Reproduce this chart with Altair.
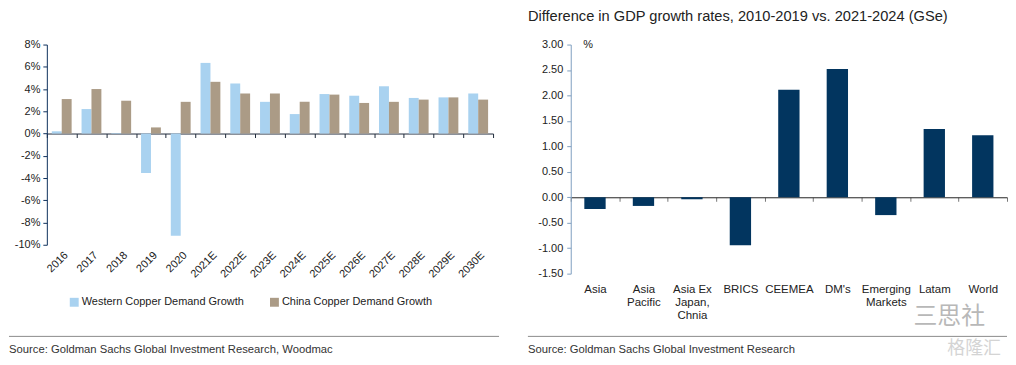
import altair as alt
import pandas as pd

# ---------------- data ----------------
years = ["2016", "2017", "2018", "2019", "2020", "2021E", "2022E", "2023E",
         "2024E", "2025E", "2026E", "2027E", "2028E", "2029E", "2030E"]
western = [0.2, 2.2, 0.05, -3.55, -9.2, 6.35, 4.5, 2.85, 1.75, 3.55, 3.4, 4.25, 3.2, 3.25, 3.6]
china = [3.1, 4.0, 2.95, 0.55, 2.85, 4.65, 3.6, 3.6, 2.85, 3.5, 2.75, 2.85, 3.05, 3.25, 3.05]
series_names = ["Western Copper Demand Growth", "China Copper Demand Growth"]
left_ticks = [8, 6, 4, 2, 0, -2, -4, -6, -8, -10]

regions = ["Asia", "Asia|Pacific", "Asia Ex|Japan,|Chnia", "BRICS", "CEEMEA",
           "DM's", "Emerging|Markets", "Latam", "World"]
gdp_diff = [-0.23, -0.17, -0.04, -0.94, 2.11, 2.52, -0.35, 1.34, 1.22]
right_ticks = [3.0, 2.5, 2.0, 1.5, 1.0, 0.5, 0.0, -0.5, -1.0, -1.5]

right_title = "Difference in GDP growth rates, 2010-2019 vs. 2021-2024 (GSe)"
source_left = "Source: Goldman Sachs Global Investment Research, Woodmac"
source_right = "Source: Goldman Sachs Global Investment Research"

# ---------------- style ----------------
BLUE = "#A9D2F0"
BROWN = "#AB9B86"
NAVY = "#02355F"
FONT = "Liberation Sans"

W1, H1 = 448, 201
W2, H2 = 438, 230

df1 = pd.DataFrame({
    "year": years * 2,
    "series": [series_names[0]] * len(years) + [series_names[1]] * len(years),
    "value": western + china,
})

bars1 = alt.Chart(df1).mark_bar().encode(
    x=alt.X("year:N", sort=years, title=None,
            scale=alt.Scale(paddingInner=0, paddingOuter=0),
            axis=alt.Axis(offset=-H1 * 10 / 18, labelAngle=-45, labelAlign="right",
                          labelBaseline="top", labelPadding=112, tickBand="extent",
                          tickSize=4, domainColor="#1f2a3a", tickColor="#1f2a3a",
                          labelFontSize=11, labelColor="#222")),
    xOffset=alt.XOffset("series:N", sort=series_names,
                        scale=alt.Scale(paddingInner=0, paddingOuter=0.5)),
    y=alt.Y("value:Q", title=None,
            scale=alt.Scale(domain=[-10, 8], nice=False),
            axis=alt.Axis(values=left_ticks, labelExpr="datum.value + '%'",
                          domainColor="#0d2f5c", tickColor="#0d2f5c", tickSize=4,
                          labelFontSize=11, labelColor="#222", labelPadding=3)),
    color=alt.Color("series:N", sort=series_names,
                    scale=alt.Scale(domain=series_names, range=[BLUE, BROWN]),
                    legend=alt.Legend(title=None, orient="none", direction="horizontal",
                                      legendX=22, legendY=253, symbolType="square",
                                      symbolSize=80, symbolStrokeWidth=0,
                                      labelFontSize=11, labelColor="#222",
                                      labelLimit=400, columnPadding=24, labelOffset=2)),
)

rule1 = alt.Chart(pd.DataFrame({"k": [0]})).mark_rule(color="#8a8a8a", strokeWidth=1).encode(
    x=alt.value(-38), x2=alt.value(454), y=alt.value(293))
text1 = alt.Chart(pd.DataFrame({"t": [source_left]})).mark_text(
    align="left", baseline="middle", font=FONT, fontSize=11.3, color="#333").encode(
    x=alt.value(-38), y=alt.value(307), text="t:N")

left = alt.layer(bars1, rule1, text1).properties(width=W1, height=H1)

df2 = pd.DataFrame({"region": regions, "diff": gdp_diff})

bars2 = alt.Chart(df2).mark_bar(width=alt.RelativeBandSize(0.44), color=NAVY).encode(
    x=alt.X("region:N", sort=regions, title=None,
            scale=alt.Scale(paddingInner=0, paddingOuter=0),
            axis=alt.Axis(offset=-H2 * 1.5 / 4.5, labelAngle=0, labelAlign="center",
                          labelBaseline="top", labelPadding=83,
                          labelExpr="split(datum.label, '|')", labelLineHeight=12.7,
                          tickBand="extent", tickSize=4, domainColor="#222",
                          tickColor="#777", labelFontSize=11.5, labelColor="#222")),
    y=alt.Y("diff:Q", scale=alt.Scale(domain=[-1.5, 3], nice=False),
            axis=alt.Axis(values=right_ticks,
                          labelExpr="replace(format(datum.value, '.2f'), '\u2212', '-')",
                          domainColor="#7f9fbf", tickColor="#7f9fbf", tickSize=4,
                          labelFontSize=11, labelColor="#222", labelPadding=4,
                          title="%", titleAngle=0, titleX=12, titleY=0,
                          titleAlign="left", titleBaseline="middle",
                          titleFontSize=11, titleFontWeight="normal", titleColor="#222")),
)

rule2 = alt.Chart(pd.DataFrame({"k": [0]})).mark_rule(color="#8a8a8a", strokeWidth=1).encode(
    x=alt.value(-43), x2=alt.value(438), y=alt.value(293))
text2 = alt.Chart(pd.DataFrame({"t": [source_right]})).mark_text(
    align="left", baseline="middle", font=FONT, fontSize=11.3, color="#333").encode(
    x=alt.value(-43), y=alt.value(307), text="t:N")
wm1 = alt.Chart(pd.DataFrame({"t": ["三思社"]})).mark_text(
    align="center", baseline="middle", font="Noto Sans CJK SC", fontSize=24,
    color="#b8b8b8").encode(x=alt.value(380), y=alt.value(274), text="t:N")
wm2 = alt.Chart(pd.DataFrame({"t": ["格隆汇"]})).mark_text(
    align="center", baseline="middle", font="Noto Sans CJK SC", fontSize=18,
    color="#d4d4d4").encode(x=alt.value(405), y=alt.value(306), text="t:N")

right = alt.layer(bars2, rule2, text2, wm1, wm2).properties(
    width=W2, height=H2,
    title=alt.TitleParams(right_title, anchor="start", frame="group", dx=-43, offset=15,
                          font=FONT, fontSize=14.7, fontWeight="normal", color="#222"),
)

chart = alt.hconcat(left, right, spacing=27).properties(
    padding={"left": 0, "top": 0, "right": 0, "bottom": 0}
).configure(font=FONT).configure_view(stroke=None).configure_axis(grid=False)

chart.save("out.html", embed_options={"renderer": "svg", "actions": False})
